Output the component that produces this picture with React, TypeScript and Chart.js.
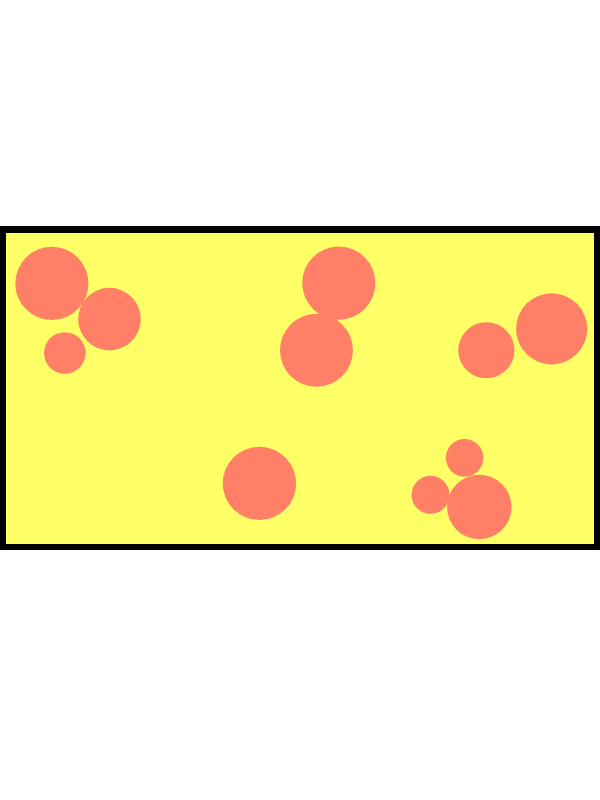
import { useEffect, useRef } from "react";
import { Chart, registerables } from "chart.js";

Chart.register(...registerables);

// bubble positions on a 0..100 grid, radius in px
const xs = [7.8, 17.6, 10.0, 56.6, 52.8, 81.7, 92.8, 43.1, 78.0, 72.2, 80.5];
const ys = [83.8, 72.3, 61.4, 83.9, 62.3, 62.3, 69.2, 19.5, 27.7, 15.8, 11.9];
const rs = [36.6, 31.3, 20.8, 36.6, 36.5, 28.1, 35.6, 36.7, 18.8, 19, 32.3];

const frame = {
  id: "frame",
  beforeDraw(chart: Chart) {
    const { ctx, chartArea, width, height } = chart;
    ctx.save();
    ctx.fillStyle = "#000000";
    ctx.fillRect(0, 0, width, height);
    ctx.fillStyle = "#ffff66";
    ctx.fillRect(chartArea.left, chartArea.top, chartArea.right - chartArea.left, chartArea.bottom - chartArea.top);
    ctx.restore();
  },
};

export default function App() {
  const ref = useRef<HTMLCanvasElement | null>(null);

  useEffect(() => {
    if (!ref.current) return;
    const chart = new Chart(ref.current, {
      type: "bubble",
      data: {
        datasets: [
          {
            data: xs.map((x, i) => ({ x, y: ys[i], r: rs[i] })),
            backgroundColor: "#ff8066",
            borderWidth: 0,
          },
        ],
      },
      options: {
        animation: false,
        responsive: true,
        maintainAspectRatio: false,
        layout: { autoPadding: false, padding: { left: 6, right: 6, top: 7, bottom: 6 } },
        plugins: { legend: { display: false }, tooltip: { enabled: false } },
        scales: {
          x: { min: 0, max: 100, display: false },
          y: { min: 0, max: 100, display: false },
        },
      },
      plugins: [frame],
    });
    return () => chart.destroy();
  }, []);

  return (
    <div style={{ position: "absolute", left: 0, top: 226, width: 600, height: 324 }}>
      <canvas ref={ref} />
    </div>
  );
}
